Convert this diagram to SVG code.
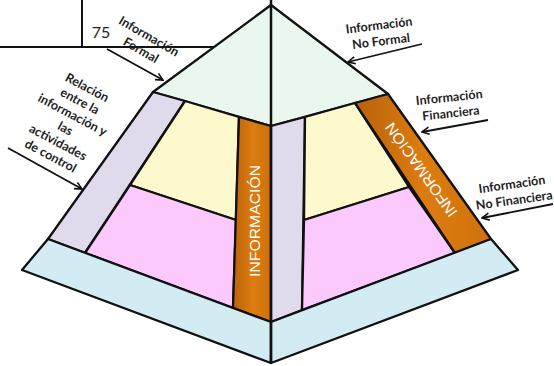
<svg xmlns="http://www.w3.org/2000/svg" width="554" height="366" viewBox="0 0 554 366">
<style>
.e{stroke:#111;stroke-width:2.3;stroke-linejoin:round}
.top{fill:#e9f7ef}.lav{fill:#e1d9ec}.yel{fill:#fdf9cd}.pnk{fill:#fbc9fb}.blu{fill:#d3ebf3}.org{fill:url(#og)}
.lbl{font-family:Lato,"Open Sans",sans-serif;font-weight:bold;font-size:12.5px;fill:#1e1e1e;text-anchor:middle;dominant-baseline:central}
.band{font-family:"Liberation Sans",Arial,sans-serif;font-size:15px;fill:#fff;text-anchor:middle;dominant-baseline:central}
.ar{stroke:#111;stroke-width:1.8;fill:none;marker-end:url(#ah)}
</style>
<defs>
<linearGradient id="og" x1="0" y1="0" x2="1" y2="0">
<stop offset="0" stop-color="#b9620a"/><stop offset="0.5" stop-color="#dc7c10"/><stop offset="1" stop-color="#d0720c"/>
</linearGradient>
<marker id="ah" viewBox="0 0 10 10" refX="9" refY="5" markerWidth="5" markerHeight="5" orient="auto" markerUnits="strokeWidth">
<path d="M1,1 L9,5 L1,9" fill="none" stroke="#111" stroke-width="1.8"/>
</marker>
</defs>
<g id="frame">
<line x1="0" y1="47" x2="214" y2="47" stroke="#111" stroke-width="2"/>
<line x1="82" y1="0" x2="82" y2="47" stroke="#111" stroke-width="2"/>
<text x="101" y="31" font-family="Lato,'Open Sans',sans-serif" font-size="16" fill="#222" text-anchor="middle" dominant-baseline="central">75</text>
</g>
<g id="pyramid">
<polygon id="top-tier" class="e top" points="271,5 388,94 271,126 153,92"/>
<polygon id="left-lavender" class="e lav" points="153,92 185,101 85,253 48,239"/>
<polygon id="left-yellow" class="e yel" points="185,101 239,117 236,220 130,185"/>
<polygon id="left-pink" class="e pnk" points="130,185 236,220 233,308 85,253"/>
<polygon id="left-orange" class="e org" points="239,117 271,126 271,322 233,308"/>
<polygon id="right-lavender" class="e lav" points="271,126 305,117 302,310 271,322"/>
<polygon id="right-yellow" class="e yel" points="305,117 355,103 409,187 304,220"/>
<polygon id="right-pink" class="e pnk" points="304,220 409,187 455,253 302,310"/>
<polygon id="right-orange" class="e org" points="355,103 388,94 491,239 455,253"/>
<polygon id="left-blue" class="e blu" points="48,239 271,322 271,363 22,270"/>
<polygon id="right-blue" class="e blu" points="271,322 491,239 518,270 271,363"/>
<line x1="271" y1="0" x2="271" y2="363" stroke="#111" stroke-width="2.5"/>
</g>
<g id="band-left"><text class="band" transform="translate(254,221) rotate(-90)" textLength="112" lengthAdjust="spacingAndGlyphs">INFORMACIÓN</text></g>
<g id="band-right"><text class="band" transform="translate(421,170) rotate(-125.6)" textLength="112" lengthAdjust="spacingAndGlyphs">INFORMACIÓN</text></g>
<g id="label-formal" transform="translate(145,43) rotate(30)">
<text class="lbl" x="0" y="-8">Información</text>
<text class="lbl" x="0" y="8">Formal</text>
</g>
<g id="label-relacion" transform="translate(69,121.5) rotate(28)">
<text class="lbl" x="0" y="-38.75">Relación</text>
<text class="lbl" x="0" y="-23.25">entre la</text>
<text class="lbl" x="0" y="-7.75">información y</text>
<text class="lbl" x="0" y="7.75">las</text>
<text class="lbl" x="0" y="23.25">actividades</text>
<text class="lbl" x="0" y="38.75">de control</text>
</g>
<g id="label-noformal" transform="translate(380,33) rotate(-7)">
<text class="lbl" x="0" y="-8">Información</text>
<text class="lbl" x="0" y="8">No Formal</text>
</g>
<g id="label-financiera" transform="translate(450,105) rotate(-6)">
<text class="lbl" x="0" y="-8">Información</text>
<text class="lbl" x="0" y="8">Financiera</text>
</g>
<g id="label-nofinanciera" transform="translate(513,192) rotate(-8)">
<text class="lbl" x="0" y="-8">Información</text>
<text class="lbl" x="0" y="8">No Financiera</text>
</g>
<g id="connectors">
<line class="ar" x1="107" y1="49" x2="163" y2="80"/>
<line class="ar" x1="8" y1="148" x2="82" y2="189"/>
<line class="ar" x1="422" y1="44" x2="348" y2="62"/>
<line class="ar" x1="488" y1="120" x2="422" y2="132"/>
<line class="ar" x1="553" y1="204" x2="482" y2="218"/>
</g>
</svg>
